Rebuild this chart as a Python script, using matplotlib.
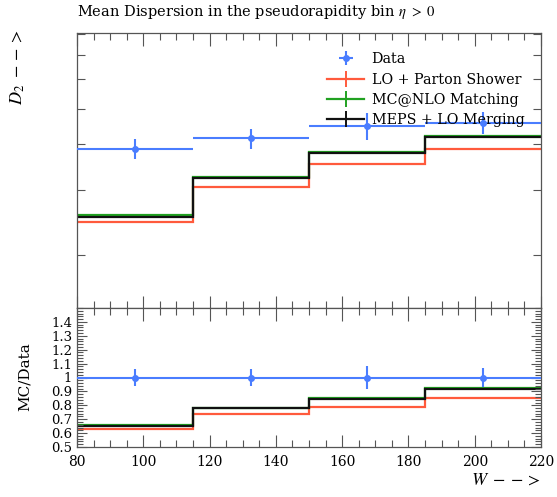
import numpy as np
import matplotlib
matplotlib.use('Agg')
import matplotlib.pyplot as plt
from matplotlib.lines import Line2D
from matplotlib.ticker import MultipleLocator, NullFormatter, LogLocator, FormatStrFormatter

# bin edges in W and bin centres
edges = [80, 115, 150, 185, 220]
centres = [97.5, 132.5, 167.5, 202.5]

# mean dispersion D2 per bin
data = [3.88, 4.15, 4.48, 4.57]
data_err = [0.245, 0.26, 0.38, 0.32]
lo_ps = [2.45, 3.06, 3.53, 3.89]
mcatnlo = [2.56, 3.25, 3.81, 4.21]
meps = [2.53, 3.23, 3.79, 4.19]

c_data = '#4a7dff'
c_lo = '#ff5a3c'
c_nlo = '#21a121'
c_meps = '#111111'

plt.rcParams['font.family'] = ['DejaVu Serif']
plt.rcParams['mathtext.fontset'] = 'stix'

fig = plt.figure(figsize=(5.57, 4.97), dpi=100)
W, H = 557, 497
ax = fig.add_axes([77 / W, 1 - 308 / H, (541 - 77) / W, (308 - 33) / H])
rax = fig.add_axes([77 / W, 1 - 447 / H, (541 - 77) / W, (447 - 308) / H], sharex=ax)

data = np.array(data)
data_err = np.array(data_err)
half = (np.diff(edges) / 2)

# main panel
dat = ax.errorbar(centres, data, xerr=half, yerr=data_err, fmt='o', ms=4,
                  color=c_data, lw=1.5, capsize=0, zorder=5)
ax.stairs(lo_ps, edges, baseline=None, color=c_lo, lw=1.6)
ax.stairs(mcatnlo, edges, baseline=None, color=c_nlo, lw=1.6)
ax.stairs(meps, edges, baseline=None, color=c_meps, lw=1.6)

ax.set_yscale('log')
ax.set_ylim(1.43, 8.03)
ax.yaxis.set_major_locator(LogLocator(base=10))
ax.yaxis.set_minor_locator(LogLocator(base=10, subs=np.arange(2, 10)))
ax.yaxis.set_major_formatter(NullFormatter())
ax.yaxis.set_minor_formatter(NullFormatter())
ax.set_xlim(80, 220)
ax.xaxis.set_major_locator(MultipleLocator(20))
ax.xaxis.set_minor_locator(MultipleLocator(5))
ax.tick_params(labelbottom=False)

handles = [
    dat,
    Line2D([0], [0], color=c_lo, lw=1.6, marker='|', ms=12, mew=1.4),
    Line2D([0], [0], color=c_nlo, lw=1.6, marker='|', ms=12, mew=1.4),
    Line2D([0], [0], color=c_meps, lw=1.6, marker='|', ms=12, mew=1.4),
]
labels = ['Data', 'LO + Parton Shower', 'MC@NLO Matching', 'MEPS + LO Merging']
ax.legend(handles, labels, loc='upper left', bbox_to_anchor=(320 / W, 1 - 45 / H),
          bbox_transform=fig.transFigure, frameon=False, fontsize=10.3,
          handlelength=2.6, labelspacing=0.45, borderpad=0, handletextpad=0.5)

# ratio panel
rax.errorbar(centres, data / data, xerr=half, yerr=data_err / data, fmt='o', ms=4,
             color=c_data, lw=1.5, capsize=0, zorder=5)
rax.stairs(np.array(lo_ps) / data, edges, baseline=None, color=c_lo, lw=1.6)
rax.stairs(np.array(mcatnlo) / data, edges, baseline=None, color=c_nlo, lw=1.6)
rax.stairs(np.array(meps) / data, edges, baseline=None, color=c_meps, lw=1.6)
rax.set_ylim(0.5, 1.5)
rax.set_yticks(np.arange(0.5, 1.45, 0.1))
rax.yaxis.set_major_formatter(FormatStrFormatter('%g'))
rax.yaxis.set_minor_locator(MultipleLocator(0.02))
rax.set_xlim(80, 220)

for a in (ax, rax):
    a.tick_params(which='both', direction='in', top=True, right=True,
                  color='#555555', labelsize=9.5, width=0.8)
    a.tick_params(axis='x', which='major', length=9)
    a.tick_params(axis='x', which='minor', length=5)
    a.tick_params(axis='y', which='major', length=7)
    a.tick_params(axis='y', which='minor', length=4)
    for s in a.spines.values():
        s.set_color('#555555')
        s.set_linewidth(0.9)
ax.tick_params(axis='y', which='minor', length=6)
rax.tick_params(axis='x', pad=6, labelsize=10)

fig.text(77 / W, 1 - 12 / H, 'Mean Dispersion in the pseudorapidity bin $\\eta\\ >\\ 0$',
         ha='left', va='center', fontsize=10.5)
fig.text(18 / W, 1 - 30 / H, '$D_2\\ - - >$', rotation=90, ha='center', va='top', fontsize=13)
fig.text(25 / W, 1 - 377 / H, 'MC/Data', rotation=90, ha='center', va='center', fontsize=11)
fig.text(541 / W, 1 - 480 / H, '$W\\ - - >$', ha='right', va='center', fontsize=13)

fig.savefig('out.png', dpi=100)
